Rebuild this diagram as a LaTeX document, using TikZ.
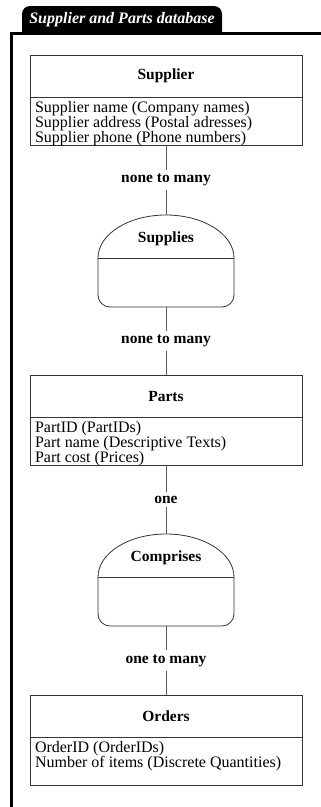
\documentclass[tikz,border=0pt]{standalone}
\usepackage{fontspec}
\setmainfont{Liberation Serif}
\usetikzlibrary{positioning}

\tikzset{
  enthead/.style={draw=black!80, line width=0.8pt, outer sep=0pt, inner sep=0pt,
    minimum width=272pt, minimum height=42pt, font=\bfseries\fontsize{15.5}{15}\selectfont},
  entattr/.style={draw=black!80, line width=0.8pt, outer sep=0pt, inner xsep=5pt, inner ysep=0pt,
    minimum width=272pt, minimum height=48pt, font=\fontsize{16}{15}\selectfont},
  relbox/.style={minimum width=136pt, minimum height=92pt, inner sep=0pt, outer sep=0pt, anchor=north},
  relline/.style={draw=black!80, line width=0.8pt},
  card/.style={fill=white, inner xsep=1pt, inner ysep=4pt, font=\bfseries\fontsize{15.5}{15}\selectfont},
  link/.style={draw=black!65, line width=0.7pt}
}

\begin{document}
\begin{tikzpicture}[x=1pt,y=-1pt]
\useasboundingbox (0,0) rectangle (321,807);

\def\entity#1#2#3#4{
  \node[enthead, anchor=north] (#1) at (166,#2) {#3};
  \node[entattr, below=0pt of #1] (#1attr) {\parbox[t][48pt][t]{262pt}{\rule{0pt}{15.5pt}#4}};
}
\def\relship#1#2#3{
  \node[relbox] (#1) at (166,#2) {};
  \draw[relline] (98,#2+43) arc[start angle=180,end angle=360,x radius=68,y radius=43]
    -- (234,#2+80) arc[start angle=0,end angle=90,radius=12]
    -- (110,#2+92) arc[start angle=90,end angle=180,radius=12] -- cycle;
  \draw[relline] (98,#2+43) -- (234,#2+43);
  \node[font=\bfseries\fontsize{15.5}{15}\selectfont] (#1name) at (166,#2+24) {#3};
}

% Frame and title tab
\fill (22,33) -- (22,14) arc[start angle=180,end angle=270,radius=8]
  -- (214,6) arc[start angle=270,end angle=360,radius=8] -- (222,33) -- cycle;
\node[text=white, font=\bfseries\itshape\fontsize{16}{16}\selectfont] (title) at (122,20) {Supplier and Parts database};
\draw[line width=3pt] (11.5,807) -- (11.5,33.5) -- (321,33.5);

% Entities
\entity{supplier}{55}{Supplier}{Supplier name (Company names)\\Supplier address (Postal adresses)\\Supplier phone (Phone numbers)}
\entity{parts}{375}{Parts}{PartID (PartIDs)\\Part name (Descriptive Texts)\\Part cost (Prices)}
\entity{orders}{695}{Orders}{OrderID (OrderIDs)\\Number of items (Discrete Quantities)}

% Relationships
\relship{supplies}{215}{Supplies}
\relship{comprises}{534}{Comprises}

% Connectors
\draw[link] (supplierattr) -- node[card] {none to many} (supplies);
\draw[link] (supplies) -- node[card] {none to many} (parts);
\draw[link] (partsattr) -- node[card] {one} (comprises);
\draw[link] (comprises) -- node[card] {one to many} (orders);

\end{tikzpicture}
\end{document}
